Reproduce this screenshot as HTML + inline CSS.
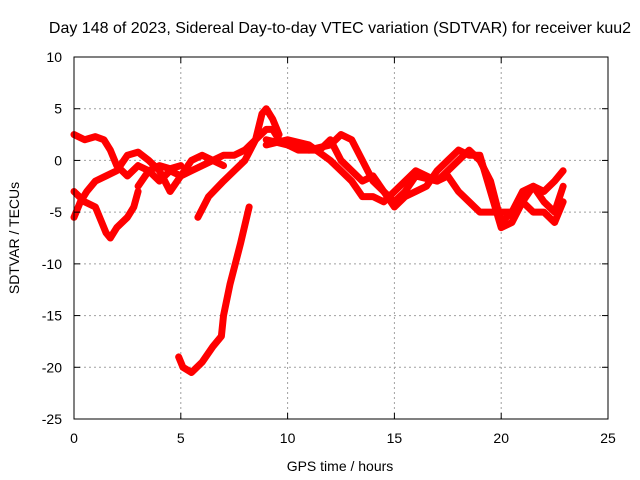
<!DOCTYPE html>
<html><head><meta charset="utf-8"><style>
body{margin:0;background:#fff}
svg{display:block;font-family:"Liberation Sans",sans-serif;font-size:14px}
</style></head><body>
<svg id="chart" width="640" height="480" viewBox="0 0 640 480">
<rect width="640" height="480" fill="#fff"/>
<text x="340" y="33" text-anchor="middle" style="font-size:16px">Day 148 of 2023, Sidereal Day-to-day VTEC variation (SDTVAR) for receiver kuu2</text>
<g id="grid"></g>
<g id="series"></g>
<rect x="74" y="57" width="534" height="362" fill="none" stroke="#000" stroke-width="1"/>
<g id="ticks"></g>
<text x="340" y="471" text-anchor="middle">GPS time / hours</text>
<text transform="translate(19,238) rotate(-90)" text-anchor="middle">SDTVAR / TECUs</text>
</svg>
<script>
const xTicks=[0,5,10,15,20,25];
const yTicks=[10,5,0,-5,-10,-15,-20,-25];
const trackA=[[0,2.5],[0.5,2],[1,2.3],[1.4,2],[1.7,1],[2,-0.5],[2.5,-1.5],[3,-0.5],[3.5,-1],[4,-0.5],[4.5,-0.8],[5,-0.5]];
const trackB=[[0,-5.5],[0.3,-4],[0.6,-3],[1,-2],[1.5,-1.5],[2,-1],[2.5,0.5],[3,0.8],[3.5,0],[4,-1],[4.5,-3],[5,-1.5],[5.5,0],[6,0.5],[6.5,0],[7,-0.5]];
const trackC=[[0,-3],[0.5,-4],[1,-4.5],[1.5,-7],[1.7,-7.5],[2,-6.5],[2.5,-5.5],[2.8,-4.5],[3,-3]];
const trackD=[[4.9,-19],[5.1,-20],[5.5,-20.5],[6,-19.5],[6.5,-18],[6.9,-17],[7,-15],[7.3,-12],[7.8,-8],[8.2,-4.5]];
const trackE=[[5.8,-5.5],[6.3,-3.5],[7,-2],[7.5,-1],[8,0],[8.5,2],[9,3],[9.3,3],[9.6,2]];
const trackF=[[3,-2.5],[3.5,-1],[4,-2],[4.5,-1],[5,-1.5],[5.5,-1],[6,-0.5],[6.5,0],[7,0.5],[7.5,0.5],[8,1],[8.5,2],[8.8,4.5],[9,5],[9.3,4],[9.6,2.5]];
const trackG=[[9,2],[10,1.5],[11,1],[12,1.5],[12.5,2.5],[13,2],[13.5,0],[14,-2],[14.5,-3],[15,-4],[15.5,-3],[16,-1.5],[17,-2],[18,0],[18.5,1],[19,0],[19.5,-2],[20,-6],[20.5,-5],[21,-3],[21.5,-2.5],[22,-3],[22.5,-2],[22.9,-1]];
const trackH=[[9,1.5],[10,2],[11,1.5],[12,0],[12.5,-1],[13,-2],[13.5,-3.5],[14,-3.5],[14.5,-4],[15,-3],[15.5,-2],[16,-1],[16.5,-1.5],[17,-2],[17.5,-1.5],[18,-3],[18.5,-4],[19,-5],[19.5,-5],[20,-5],[20.5,-5],[21,-4],[21.5,-5],[22,-5],[22.5,-6],[22.9,-4]];
const trackI=[[9.5,2],[10.5,1],[11.5,1],[12,2],[12.5,0],[13,-1],[13.5,-2],[14,-1.5],[14.5,-3],[15,-4.5],[15.5,-3.5],[16,-3],[16.5,-2.5],[17,-1],[17.5,0],[18,1],[18.5,0.5],[19,0.5],[19.5,-3],[20,-6.5],[20.5,-6],[21,-4],[21.5,-2.5],[22,-4],[22.5,-5],[22.9,-2.5]];
const tracks=[trackA,trackB,trackC,trackD,trackE,trackF,trackG,trackH,trackI];

const NS="http://www.w3.org/2000/svg";
const X0=74,X1=608,Y0=419,Y1=57;
function xs(v){return X0+(v-0)/(25-0)*(X1-X0);}
function ys(v){return Y0-(v+25)/(10+25)*(Y0-Y1);}
const grid=document.getElementById('grid'),ticks=document.getElementById('ticks'),ser=document.getElementById('series');
function mk(t,a,p){const e=document.createElementNS(NS,t);for(const k in a)e.setAttribute(k,a[k]);p.appendChild(e);return e;}
xTicks.forEach(v=>{
  const x=xs(v);
  if(v>0&&v<25){const g=mk('line',{x1:x,x2:x,y1:Y1,y2:Y0,stroke:'#a0a0a0','stroke-dasharray':'2,3'},grid);
  
  }
  mk('line',{x1:x,x2:x,y1:Y0,y2:Y0-6,stroke:'#000'},ticks);
  mk('line',{x1:x,x2:x,y1:Y1,y2:Y1+6,stroke:'#000'},ticks);
  const t=mk('text',{x:x,y:Y0+24,'text-anchor':'middle'},ticks);t.textContent=v;
  
  
});
yTicks.forEach(v=>{
  const y=ys(v);
  if(v>-25&&v<10){const g=mk('line',{x1:X0,x2:X1,y1:y,y2:y,stroke:'#a0a0a0','stroke-dasharray':'2,3'},grid);
  
  }
  mk('line',{x1:X0,x2:X0+6,y1:y,y2:y,stroke:'#000'},ticks);
  mk('line',{x1:X1,x2:X1-6,y1:y,y2:y,stroke:'#000'},ticks);
  const t=mk('text',{x:X0-12,y:y+5,'text-anchor':'end'},ticks);t.textContent=v;
  
  
});
tracks.forEach((tr,i)=>{
  const p=mk('polyline',{points:tr.map(d=>xs(d[0])+','+ys(d[1])).join(' '),fill:'none',stroke:'#ff0000','stroke-width':7,'stroke-linejoin':'round','stroke-linecap':'round'},ser);
  
  
});
</script>
</body></html>
